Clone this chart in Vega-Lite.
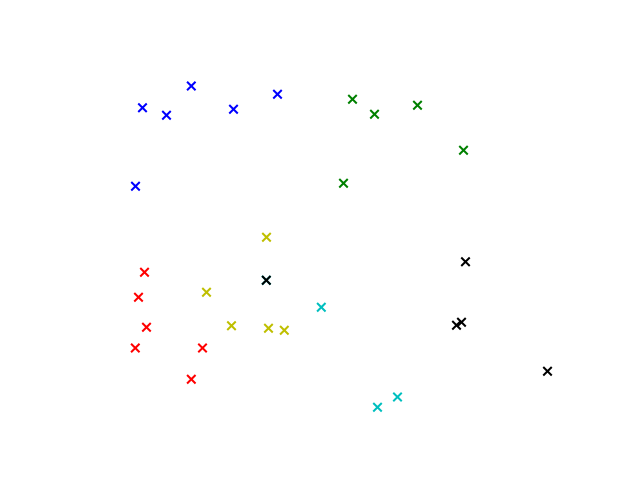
{
  "$schema": "https://vega.github.io/schema/vega-lite/v6.json",
  "width": 640,
  "height": 480,
  "padding": 0,
  "autosize": {"type": "none"},
  "background": "white",
  "config": {"view": {"stroke": null}},
  "data": {
    "values": [
      {"x": 142.5, "y": 372.3, "g": "b"},
      {"x": 166.5, "y": 364.7, "g": "b"},
      {"x": 191.3, "y": 394.0, "g": "b"},
      {"x": 233.5, "y": 370.7, "g": "b"},
      {"x": 277.5, "y": 385.7, "g": "b"},
      {"x": 135.5, "y": 293.7, "g": "b"},
      {"x": 352.5, "y": 380.7, "g": "g"},
      {"x": 374.5, "y": 365.7, "g": "g"},
      {"x": 417.5, "y": 374.7, "g": "g"},
      {"x": 463.5, "y": 329.7, "g": "g"},
      {"x": 343.5, "y": 296.7, "g": "g"},
      {"x": 144.5, "y": 207.7, "g": "r"},
      {"x": 138.5, "y": 182.7, "g": "r"},
      {"x": 146.5, "y": 152.7, "g": "r"},
      {"x": 135.3, "y": 132.0, "g": "r"},
      {"x": 202.5, "y": 132.0, "g": "r"},
      {"x": 191.3, "y": 100.7, "g": "r"},
      {"x": 266.5, "y": 242.7, "g": "y"},
      {"x": 206.5, "y": 187.7, "g": "y"},
      {"x": 231.5, "y": 154.3, "g": "y"},
      {"x": 268.5, "y": 151.7, "g": "y"},
      {"x": 284.3, "y": 149.7, "g": "y"},
      {"x": 321.3, "y": 172.7, "g": "c"},
      {"x": 397.5, "y": 83.0, "g": "c"},
      {"x": 377.5, "y": 72.7, "g": "c"},
      {"x": 266.3, "y": 199.7, "g": "c"},
      {"x": 266.3, "y": 199.7, "g": "k"},
      {"x": 465.5, "y": 218.3, "g": "k"},
      {"x": 456.5, "y": 154.7, "g": "k"},
      {"x": 461.5, "y": 157.7, "g": "k"},
      {"x": 547.5, "y": 108.7, "g": "k"}
    ]
  },
  "mark": {
    "type": "point",
    "shape": "M-1,-1L1,1M-1,1L1,-1",
    "filled": false,
    "size": 72,
    "strokeWidth": 2,
    "opacity": 1
  },
  "encoding": {
    "x": {"field": "x", "type": "quantitative", "scale": {"domain": [0, 640], "nice": false, "zero": false}, "axis": null},
    "y": {"field": "y", "type": "quantitative", "scale": {"domain": [0, 480], "nice": false, "zero": false}, "axis": null},
    "color": {
      "field": "g",
      "type": "nominal",
      "scale": {"domain": ["b", "g", "r", "y", "c", "k"], "range": ["#0000ff", "#008000", "#ff0000", "#bfbf00", "#00bfbf", "#000000"]},
      "legend": null
    }
  }
}
